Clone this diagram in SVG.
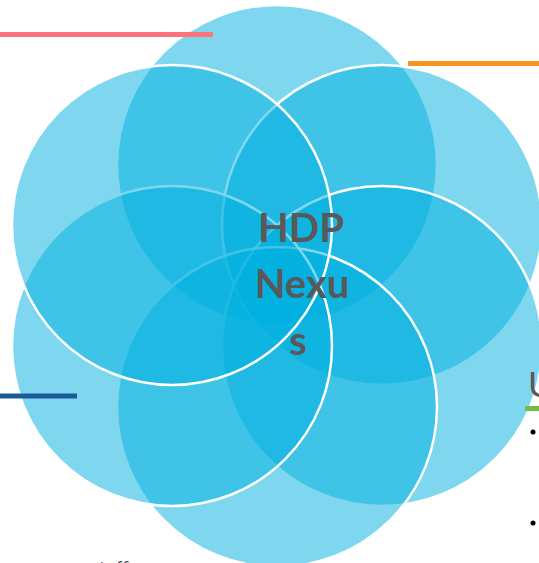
<svg xmlns="http://www.w3.org/2000/svg" width="539" height="563" viewBox="0 0 539 563">
<style>
.c{fill:#00B0E0;fill-opacity:0.5;stroke:#FFFFFF;stroke-width:2.5}
.t{font-family:Lato,"Liberation Sans",sans-serif;font-weight:bold;fill:#595959}
.b{fill:#000000}
</style>
<rect width="539" height="563" fill="#FFFFFF"/>
<g id="circles">
<g id="c-top"><circle class="c" cx="277" cy="165" r="160"/></g>
<g id="c-upper-right"><circle class="c" cx="382" cy="225" r="160"/></g>
<g id="c-lower-right"><circle class="c" cx="382" cy="346" r="160"/></g>
<g id="c-bottom"><circle class="c" cx="277" cy="407" r="160"/></g>
<g id="c-lower-left"><circle class="c" cx="172" cy="346" r="160"/></g>
<g id="c-upper-left"><circle class="c" cx="172" cy="225" r="160"/></g>
</g>
<g id="center-label">
<text class="t" x="301" y="242" font-size="40" text-anchor="middle">HDP</text>
<text class="t" x="302" y="298" font-size="40" text-anchor="middle">Nexu</text>
<text class="t" x="298" y="355" font-size="40" text-anchor="middle">s</text>
</g>
<g id="connectors">
<line x1="0" y1="34.5" x2="213" y2="34.5" stroke="#FF7279" stroke-width="5"/>
<line x1="408" y1="63.5" x2="539" y2="63.5" stroke="#F7941D" stroke-width="5"/>
<line x1="0" y1="396" x2="77" y2="396" stroke="#1B5A96" stroke-width="5"/>
<line x1="525" y1="408.5" x2="539" y2="408.5" stroke="#6CBE45" stroke-width="5"/>
</g>
<g id="side-text">
<text class="t" x="528" y="397" font-size="35" style="font-weight:normal">U</text>
<circle class="b" cx="533" cy="432" r="2.5"/>
<circle class="b" cx="533" cy="523" r="2.5"/>
<text class="t" x="90" y="575" font-size="20" style="font-weight:normal">staff</text>
</g>
</svg>
